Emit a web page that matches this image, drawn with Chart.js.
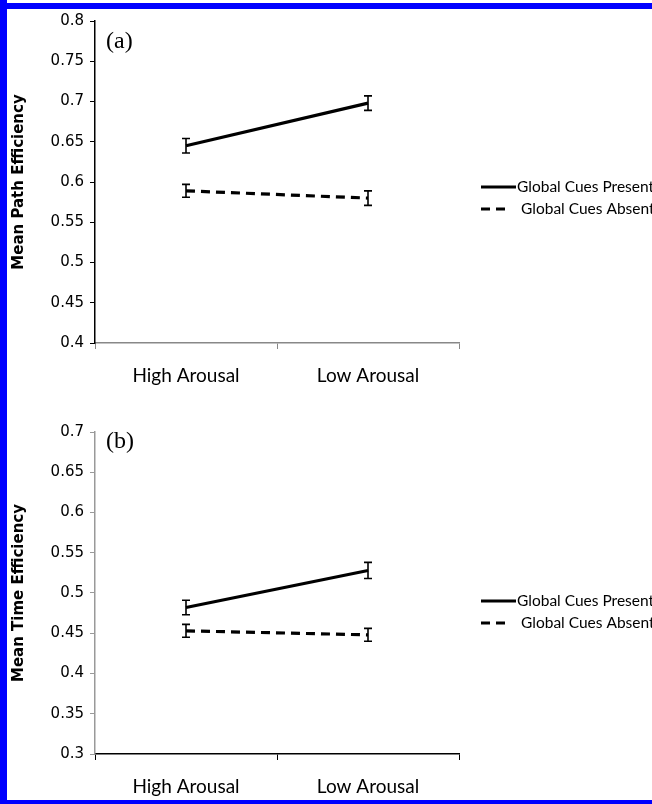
<!DOCTYPE html>
<html>
<head>
<meta charset="utf-8">
<script src="https://cdn.jsdelivr.net/npm/chart.js@4"></script>
<style>
  html, body { margin:0; padding:0; background:#fff; }
  body { width:652px; height:804px; position:relative; overflow:hidden; }
  .bar { position:absolute; background:#0000ff; }
  canvas { position:absolute; left:0; }
</style>
</head>
<body>
<div class="bar" style="left:0;top:3px;width:652px;height:6px;"></div>
<div class="bar" style="left:0;top:0;width:7px;height:804px;"></div>
<div class="bar" style="left:0;top:800px;width:652px;height:4px;"></div>
<canvas id="cA" width="652" height="400" style="top:0"></canvas>
<canvas id="cB" width="652" height="400" style="top:400px"></canvas>
<script>
// ---- data ----
const categories = ['High Arousal', 'Low Arousal'];
const seriesNames = ['Global Cues Present', 'Global Cues Absent'];

const pathPresent = [0.645, 0.698];
const pathPresentErr = [0.009, 0.009];
const pathAbsent = [0.589, 0.580];
const pathAbsentErr = [0.008, 0.009];

const timePresent = [0.482, 0.528];
const timePresentErr = [0.009, 0.010];
const timeAbsent = [0.453, 0.448];
const timeAbsentErr = [0.008, 0.008];

const yTicksA = [0.4, 0.45, 0.5, 0.55, 0.6, 0.65, 0.7, 0.75, 0.8];
const yTicksB = [0.3, 0.35, 0.4, 0.45, 0.5, 0.55, 0.6, 0.65, 0.7];

const yTitleA = 'Mean Path Efficiency';
const yTitleB = 'Mean Time Efficiency';

// ---- plugins ----
const errorBars = {
  id: 'errorBars',
  afterDatasetsDraw(chart) {
    const ctx = chart.ctx, ys = chart.scales.y;
    chart.data.datasets.forEach((ds, di) => {
      const meta = chart.getDatasetMeta(di);
      ctx.save();
      ctx.strokeStyle = '#000';
      ctx.lineWidth = 1.6;
      ctx.setLineDash([]);
      meta.data.forEach((pt, i) => {
        const v = ds.data[i], e = ds.errors[i];
        const yt = ys.getPixelForValue(v + e), yb = ys.getPixelForValue(v - e);
        const x = pt.x;
        ctx.beginPath();
        ctx.moveTo(x, yt); ctx.lineTo(x, yb);
        ctx.moveTo(x - 4, yt); ctx.lineTo(x + 4, yt);
        ctx.moveTo(x - 4, yb); ctx.lineTo(x + 4, yb);
        ctx.stroke();
      });
      ctx.restore();
    });
  }
};

const extras = {
  id: 'extras',
  afterDraw(chart, args, opts) {
    const ctx = chart.ctx;
    ctx.save();
    // panel letter
    ctx.fillStyle = '#000';
    ctx.font = '24px "Liberation Serif"';
    ctx.textBaseline = 'middle';
    ctx.textAlign = 'left';
    ctx.fillText(opts.letter, 106, opts.letterY);
    // legend
    ctx.font = '15.5px Lato';
    chart.data.datasets.forEach((ds, i) => {
      const y = opts.legendY[i];
      ctx.strokeStyle = '#000';
      ctx.lineWidth = 3;
      ctx.setLineDash(ds.borderDash || []);
      ctx.beginPath();
      if (ds.borderDash && ds.borderDash.length) {
        ctx.moveTo(481, y); ctx.lineTo(508, y);
      } else {
        ctx.moveTo(481, y); ctx.lineTo(516, y);
      }
      ctx.stroke();
      ctx.setLineDash([]);
      ctx.fillText(ds.label, i === 0 ? 517 : 521, y);
    });
    ctx.restore();
  }
};

function fmt(v) { return String(Number(v.toFixed(2))); }

function makeChart(id, present, presentErr, absent, absentErr, ticks, title, letter, letterY, legendY, yAxisColor, xAxisColor, topPad) {
  return new Chart(document.getElementById(id), {
    type: 'line',
    data: {
      labels: categories,
      datasets: [
        { label: seriesNames[0], data: present, errors: presentErr, borderColor: '#000', borderWidth: 3.2, pointRadius: 0, fill: false, tension: 0 },
        { label: seriesNames[1], data: absent, errors: absentErr, borderColor: '#000', borderWidth: 3.2, borderDash: [9, 6], pointRadius: 0, fill: false, tension: 0 }
      ]
    },
    options: {
      responsive: false,
      animation: false,
      devicePixelRatio: 1,
      layout: { padding: { left: 0, right: 193, top: topPad, bottom: 0 } },
      plugins: {
        legend: { display: false },
        tooltip: { enabled: false },
        extras: { letter, letterY, legendY }
      },
      scales: {
        x: {
          type: 'category',
          offset: true,
          afterFit(s) { s.height = 400 - topPad - 322; },
          grid: { offset: true, drawOnChartArea: false, drawTicks: true, tickLength: 6, color: xAxisColor },
          border: { display: true, color: xAxisColor, width: 1.5 },
          ticks: { color: '#000', font: { family: 'Lato', size: 19 }, padding: 15 }
        },
        y: {
          min: ticks[0], max: ticks[ticks.length - 1],
          afterFit(s) { s.width = 95; },
          afterBuildTicks(s) { s.ticks = ticks.map(v => ({ value: v })); },
          grid: { drawOnChartArea: false, drawTicks: true, tickLength: 5, color: yAxisColor },
          border: { display: true, color: yAxisColor, width: 1.5 },
          ticks: { color: '#000', font: { family: 'DejaVu Sans', size: 15 }, padding: 6, callback: v => fmt(v) },
          title: { display: true, text: title, color: '#000', font: { family: 'DejaVu Sans', size: 15, weight: 'bold' }, padding: { top: 10, bottom: 0 } }
        }
      }
    },
    plugins: [errorBars, extras]
  });
}

makeChart('cA', pathPresent, pathPresentErr, pathAbsent, pathAbsentErr, yTicksA, yTitleA, '(a)', 42, [187, 209], '#000', '#888', 21);
makeChart('cB', timePresent, timePresentErr, timeAbsent, timeAbsentErr, yTicksB, yTitleB, '(b)', 42, [201, 223], '#999', '#000', 32);
</script>
</body>
</html>
